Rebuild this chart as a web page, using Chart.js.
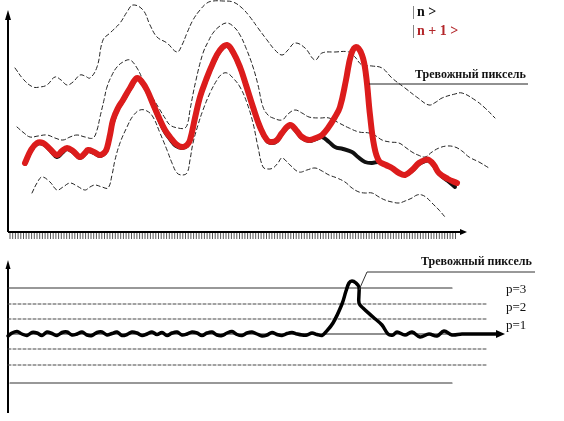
<!DOCTYPE html>
<html lang="ru">
<head>
<meta charset="UTF-8">
<title>Тревожный пиксель</title>
<style>
  body { margin: 0; background: #fff; }
  #wrap { position: relative; width: 564px; height: 421px; }
  canvas { position: absolute; left: 0; }
</style>
</head>
<body>
<div id="wrap">
  <canvas id="topChart" width="564" height="245" style="top:0"></canvas>
  <canvas id="bottomChart" width="564" height="176" style="top:245px"></canvas>
</div>
<script src="https://cdn.jsdelivr.net/npm/chart.js"></script>
<script>
// ---- top panel: state |n> (black) and |n+1> (red), t = time, a = amplitude ----
const nState = [
  [17,68],[23,81],[29,88],[35,88],[42,82],[49,75],[54,79],[59,83],[65,80],[72,74],[77,78],[80,81],
  [86,79],[92,76],[97,79],[99,83],[102,96],[105,110],[110,123],[115,131],[122,143],[129,153],
  [134,149],[139,141],[145,127],[152,110],[157,100],[162,93],[168,86],[174,84],[179,86],[182,91],
  [187,113],[192,134],[198,151],[205,168],[212,181],[219,186],[225,179],[232,164],[238,146],
  [245,124],[252,104],[259,91],[264,89],[269,91],[274,98],[282,106],[288,101],[294,94],[301,91],
  [308,93],[314,95],[321,90],[327,85],[335,83],[344,80],[350,75],[357,70],[364,69],[371,70],
  [378,67],[384,64],[391,59],[397,57],[404,61],[411,68],[417,71],[421,71],[426,66],[431,58],
  [440,51],[447,45]
];
const n1State = [
  [17,69],[23,82],[29,89],[35,89],[42,83],[49,77],[54,81],[59,84],[65,81],[72,75],[77,79],[80,82],
  [86,80],[92,77],[97,80],[99,84],[102,97],[105,112],[110,124],[115,132],[122,144],[129,154],
  [134,150],[139,142],[145,128],[152,112],[157,102],[162,95],[168,88],[174,85],[179,87],[182,92],
  [187,114],[192,135],[198,152],[205,169],[212,182],[219,187],[225,180],[232,165],[238,147],
  [245,125],[252,105],[259,92],[264,90],[269,92],[274,99],[282,107],[288,102],[294,95],[301,92],
  [308,94],[314,97],[320,104],[327,115],[332,125],[338,152],[343,177],[348,185],[354,177],
  [358,157],[362,117],[366,87],[371,71],[378,67],[384,64],[391,59],[397,57],[404,62],[411,69],
  [417,72],[421,72],[426,67],[431,59],[440,53],[449,49]
];
const upperBand = [
  [7,164],[16,152],[25,145],[32,145],[39,147],[47,155],[53,152],[59,147],[65,150],[72,157],[77,156],
  [82,154],[89,165],[95,192],[102,199],[112,209],[119,220],[125,227],[135,222],[142,207],[149,195],
  [159,189],[169,180],[174,187],[179,199],[185,212],[192,222],[199,229],[205,231],[215,231],
  [225,230],[234,224],[242,215],[250,204],[259,192],[267,182],[274,177],[280,182],[287,189],
  [297,184],[307,172],[314,179],[327,180],[341,180],[347,175],[354,167],[364,166],[374,164],
  [384,154],[397,144],[410,134],[421,127],[428,130],[434,134],[447,138],[454,139],[467,132],
  [477,124],[487,114]
];
const midBand = [
  [9,105],[16,99],[22,95],[30,96],[39,97],[47,94],[55,92],[62,95],[69,97],[77,95],[85,94],[89,102],
  [92,115],[96,132],[99,145],[104,157],[109,165],[115,170],[122,172],[129,164],[135,152],[142,139],
  [152,122],[157,114],[162,107],[170,104],[177,104],[180,110],[182,122],[188,152],[195,179],
  [200,190],[205,199],[212,206],[219,209],[226,205],[232,197],[238,184],[245,165],[250,147],
  [255,125],[260,117],[265,114],[274,112],[280,118],[287,122],[294,119],[301,115],[311,114],
  [321,114],[331,109],[341,104],[351,100],[361,99],[368,96],[374,92],[382,90],[391,89],[397,85],
  [404,80],[410,77],[417,75],[424,80],[431,84],[439,86],[447,85],[454,81],[461,75],[471,70],[481,64]
];
const lowerBand = [
  [24,39],[29,49],[34,55],[42,50],[49,42],[55,45],[62,49],[69,46],[77,42],[82,45],[87,47],[94,45],
  [100,44],[104,57],[107,72],[112,89],[119,105],[125,116],[132,122],[139,121],[145,115],[152,99],
  [159,82],[164,69],[169,59],[174,57],[179,59],[182,72],[185,89],[190,107],[195,122],[202,139],
  [209,152],[214,158],[219,159],[225,154],[232,145],[239,129],[245,109],[250,85],[255,65],[260,63],
  [265,64],[270,69],[274,74],[282,67],[291,60],[299,62],[307,64],[314,61],[321,57],[329,54],
  [337,50],[344,44],[351,40],[357,39],[364,39],[371,35],[377,32],[384,30],[391,29],[397,31],
  [404,34],[409,37],[414,37],[419,34],[424,29],[431,22],[437,15]
];

// ---- bottom panel: difference signal and thresholds ----
const alarmSignal = [
  [0,-2],[4,1],[9,2.5],[14,0],[19,-1.5],[24,1.5],[29,1],[34,-1.5],[39,2],[44,0.5],[49,-1.5],
  [54,1.5],[59,2],[64,-1],[69,0],[74,2],[79,-1],[84,-1.5],[89,1.5],[94,2],[99,-1],[104,0.5],
  [109,2],[114,-1.5],[119,-0.5],[124,2],[129,1],[134,-1.5],[139,0],[144,2],[149,-0.5],[154,1.5],
  [159,-1.5],[164,1],[169,2],[174,-1],[179,0],[184,2],[189,1],[194,-1.5],[199,1],[204,2],
  [209,-1],[214,-1.5],[219,1],[224,2.5],[229,-0.5],[234,-1.5],[239,1],[244,2],[249,0],[254,-2],
  [259,-1],[264,1.5],[269,-0.5],[274,-1.5],[279,0.5],[284,1.5],[289,0],[294,-1],[299,-1],
  [304,1],[309,-0.5],[314,-1.5],[317,1],[325,11],[334,30],[338,43],[341,51],[344,53],[348,51],
  [351,47],[351,31],[355,26],[365,17],[374,9],[380,0],[385,-1],[389,2],[397,-1],[404,2],[412,-3],
  [421,0],[429,-2],[436,3],[444,-1],[454,0],[490,0]
];
const solidLevels = [46, -49];
const dashedLevels = [30, 15, -15, -31];
const levelLabels = ['p=3', 'p=2', 'p=1'];
const levelLabelValues = [44, 26, 8];
const solidEnd = 444;
const dashedEnd = 480;

const pts = arr => arr.map(([x, y]) => ({ x, y }));

function seg(ctx, x1, y1, x2, y2) {
  ctx.beginPath(); ctx.moveTo(x1, y1); ctx.lineTo(x2, y2); ctx.stroke();
}
function arrowHead(ctx, x, y, dir, len, half) {
  ctx.beginPath();
  if (dir === 'up') {
    ctx.moveTo(x, y); ctx.lineTo(x - half, y + len); ctx.lineTo(x + half, y + len);
  } else {
    ctx.moveTo(x, y); ctx.lineTo(x - len, y - half); ctx.lineTo(x - len, y + half);
  }
  ctx.closePath(); ctx.fill();
}

const topDecor = {
  id: 'topDecor',
  beforeDatasetsDraw(chart) {
    const { ctx, scales: { x, y } } = chart;
    const x0 = x.getPixelForValue(0), y0 = y.getPixelForValue(0);
    ctx.save();
    ctx.fillStyle = '#000';
    ctx.strokeStyle = '#000';
    ctx.lineWidth = 2;
    seg(ctx, x0, y0, x0, y.getPixelForValue(214));
    arrowHead(ctx, x0, y.getPixelForValue(222), 'up', 10, 3);
    // ruler under the time axis
    ctx.lineWidth = 1;
    ctx.strokeStyle = '#555';
    for (let px = x0 + 2; px <= x.getPixelForValue(450); px += 2.7) seg(ctx, px, y0, px, y0 + 7);
    ctx.strokeStyle = '#000';
    ctx.lineWidth = 2;
    seg(ctx, x0, y0, x.getPixelForValue(453), y0);
    arrowHead(ctx, x.getPixelForValue(459), y0, 'right', 7, 3);
    ctx.restore();
  },
  afterDatasetsDraw(chart) {
    const { ctx, scales: { x, y } } = chart;
    ctx.save();
    ctx.textBaseline = 'middle';
    ctx.textAlign = 'left';
    // legend |n> and |n+1>
    let lx = x.getPixelForValue(404);
    ctx.font = '14px "Liberation Serif"';
    ctx.fillStyle = '#555';
    ctx.fillText('|', lx, y.getPixelForValue(220));
    ctx.fillText('|', lx, y.getPixelForValue(201));
    ctx.font = 'bold 14px "Liberation Serif"';
    ctx.fillStyle = '#111';
    ctx.fillText('n >', lx + 5, y.getPixelForValue(220));
    ctx.fillStyle = '#b3262a';
    ctx.fillText('n + 1 >', lx + 5, y.getPixelForValue(201));
    // alarm pixel label
    ctx.fillStyle = '#111';
    ctx.font = 'bold 12px "Liberation Serif"';
    ctx.fillText('Тревожный пиксель', x.getPixelForValue(407), y.getPixelForValue(157));
    ctx.strokeStyle = '#222';
    ctx.lineWidth = 1;
    const ly = y.getPixelForValue(148);
    seg(ctx, x.getPixelForValue(361), ly, x.getPixelForValue(520), ly);
    ctx.restore();
  }
};

const bottomDecor = {
  id: 'bottomDecor',
  beforeDatasetsDraw(chart) {
    const { ctx, scales: { x, y } } = chart;
    const x0 = x.getPixelForValue(0), y0 = y.getPixelForValue(0);
    ctx.save();
    ctx.fillStyle = '#000';
    ctx.strokeStyle = '#000';
    ctx.lineWidth = 2;
    seg(ctx, x0, y.getPixelForValue(-79), x0, y.getPixelForValue(66));
    arrowHead(ctx, x0, y.getPixelForValue(74), 'up', 9, 2.5);
    ctx.lineWidth = 1.2;
    ctx.strokeStyle = '#222';
    seg(ctx, x0, y0, x.getPixelForValue(490), y0);
    ctx.restore();
  },
  afterDatasetsDraw(chart) {
    const { ctx, scales: { x, y } } = chart;
    ctx.save();
    ctx.fillStyle = '#000';
    arrowHead(ctx, x.getPixelForValue(497), y.getPixelForValue(0), 'right', 9, 4);
    ctx.textBaseline = 'middle';
    ctx.textAlign = 'left';
    ctx.font = '13px "Liberation Serif"';
    ctx.fillStyle = '#111';
    levelLabels.forEach((t, i) => ctx.fillText(t, x.getPixelForValue(498), y.getPixelForValue(levelLabelValues[i])));
    ctx.font = 'bold 12px "Liberation Serif"';
    ctx.fillText('Тревожный пиксель', x.getPixelForValue(413), y.getPixelForValue(72));
    ctx.strokeStyle = '#333';
    ctx.lineWidth = 1;
    const ly = y.getPixelForValue(62);
    ctx.beginPath();
    ctx.moveTo(x.getPixelForValue(351), y.getPixelForValue(44));
    ctx.lineTo(x.getPixelForValue(359), ly);
    ctx.lineTo(x.getPixelForValue(527), ly);
    ctx.stroke();
    ctx.restore();
  }
};

const dashedCurve = data => ({
  data: pts(data), borderColor: '#222', borderWidth: 1, borderDash: [4, 3],
  tension: 0.4, pointRadius: 0, order: 3
});

const baseOptions = (yMin, yMax) => ({
  responsive: false,
  animation: false,
  layout: { padding: 0 },
  plugins: { legend: { display: false }, tooltip: { enabled: false } },
  scales: {
    x: { type: 'linear', min: -8, max: 556, display: false },
    y: { type: 'linear', min: yMin, max: yMax, display: false }
  },
  elements: { line: { borderCapStyle: 'round', borderJoinStyle: 'round' } }
});

new Chart(document.getElementById('topChart'), {
  type: 'scatter',
  data: {
    datasets: [
      dashedCurve(upperBand),
      dashedCurve(midBand),
      dashedCurve(lowerBand),
      { label: '|n >', data: pts(nState), borderColor: '#111', borderWidth: 4, tension: 0.4, pointRadius: 0, order: 2 },
      { label: '|n + 1 >', data: pts(n1State), borderColor: '#dc1c1c', borderWidth: 6, tension: 0.4, pointRadius: 0, order: 1 }
    ].map(d => ({ showLine: true, ...d }))
  },
  options: baseOptions(-13, 232),
  plugins: [topDecor]
});

const levelSets = [
  ...solidLevels.map(v => ({
    data: pts([[v < 0 ? 2 : 0, v], [solidEnd, v]]), borderColor: '#333', borderWidth: 1.2
  })),
  ...dashedLevels.map(v => ({
    data: pts([[0, v], [dashedEnd, v]]), borderColor: '#444', borderWidth: 1, borderDash: [3, 2]
  }))
];

new Chart(document.getElementById('bottomChart'), {
  type: 'scatter',
  data: {
    datasets: [
      { label: 'alarm', data: pts(alarmSignal), borderColor: '#000', borderWidth: 3.5, tension: 0.35, pointRadius: 0, order: 1 },
      ...levelSets.map(d => ({ pointRadius: 0, order: 2, ...d }))
    ].map(d => ({ showLine: true, ...d }))
  },
  options: baseOptions(-87, 89),
  plugins: [bottomDecor]
});
</script>
</body>
</html>
